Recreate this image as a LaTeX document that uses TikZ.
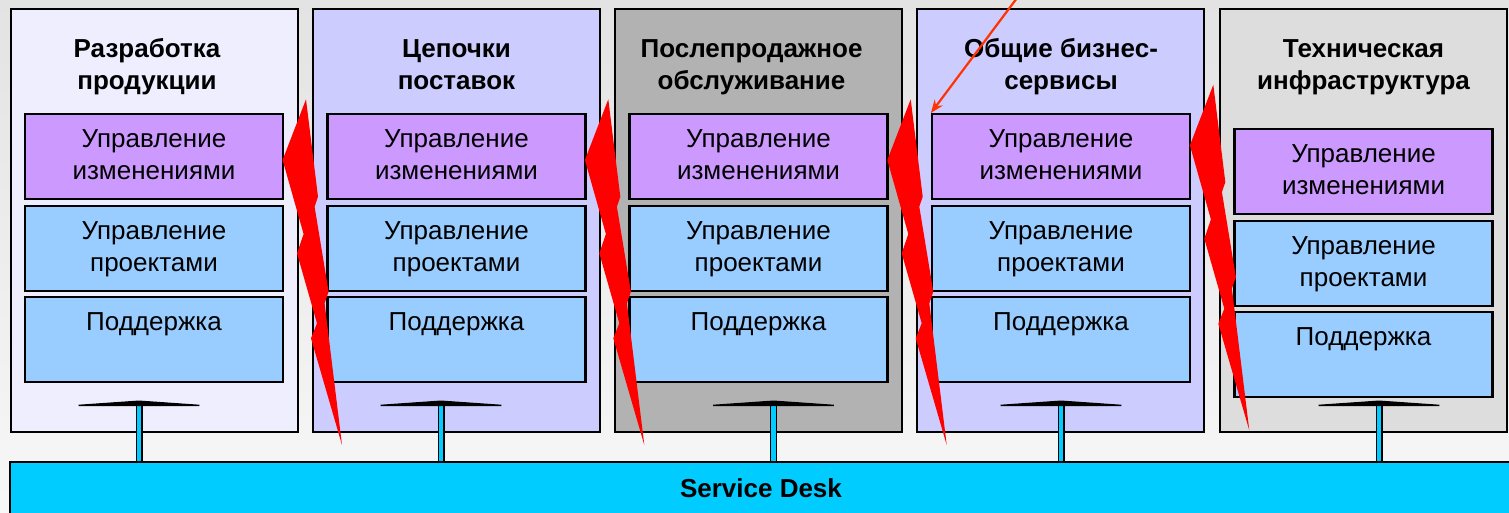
\documentclass[tikz,border=0pt]{standalone}
\usepackage{fontspec}
\setmainfont{Liberation Sans}
\usepackage{tikz}
\usetikzlibrary{arrows.meta}
\definecolor{prodcol}{HTML}{EEEEFF}
\definecolor{supcol}{HTML}{CCCCFF}
\definecolor{aftcol}{HTML}{B2B2B2}
\definecolor{infcol}{HTML}{DDDDDD}
\definecolor{chgcol}{HTML}{CC99FF}
\definecolor{prjcol}{HTML}{99CCFF}
\definecolor{sdcol}{HTML}{00CCFF}
\definecolor{notecol}{HTML}{FF3300}
\tikzset{
  colbox/.style={draw, line width=2pt, minimum width=287pt, minimum height=423pt,
    anchor=north, inner sep=0pt},
  coltitle/.style={font=\fontsize{26}{32}\selectfont\bfseries, align=center},
  chbox/.style={draw, line width=2.2pt, fill=chgcol, minimum width=258pt,
    minimum height=85pt, anchor=north, align=center,
    font=\fontsize{26}{32}\selectfont},
  prbox/.style={chbox, fill=prjcol},
  sdbox/.style={draw, line width=2pt, fill=sdcol, minimum width=1502pt,
    minimum height=52pt, font=\fontsize{26}{32}\selectfont\bfseries},
  sdarrow/.style={draw=black, line width=1.3pt, double=sdcol, double distance=4.4pt,
    -{Triangle[width=158pt,length=5.5pt,fill=black]}},
  bolt/.style={fill=red},
  note/.style={draw=notecol, line width=2.2pt, -{Stealth[length=13pt,width=10pt]}}
}

\begin{document}
\begin{tikzpicture}[x=1pt,y=-1pt]

  %% page
  \useasboundingbox (0,0) rectangle (1509,512);
  \fill[top color=gray!22, bottom color=gray!6] (0,0) rectangle (1509,512);

  %% columns
  \node[colbox, fill=prodcol] (col1) at ( 154,  8) {};
  \node[colbox, fill=supcol]  (col2) at ( 456.5,8) {};
  \node[colbox, fill=aftcol]  (col3) at ( 758.5,8) {};
  \node[colbox, fill=supcol]  (col4) at (1060.5,8) {};
  \node[colbox, fill=infcol]  (col5) at (1363.5,8) {};

  \node[coltitle] (t1) at ( 147,  67) {\strut Разработка\\\strut продукции};
  \node[coltitle] (t2) at ( 456.5,67) {\strut Цепочки\\\strut поставок};
  \node[coltitle] (t3) at ( 751.5,67) {\strut Послепродажное\\\strut обслуживание};
  \node[coltitle] (t4) at (1061,  67) {\strut Общие бизнес-\\\strut сервисы};
  \node[coltitle] (t5) at (1363.5,67) {\strut Техническая\\\strut инфраструктура};

  %% change management
  \node[chbox] (ch1) at ( 154,  113) {\strut Управление\\\strut изменениями};
  \node[chbox] (ch2) at ( 456.5,113) {\strut Управление\\\strut изменениями};
  \node[chbox] (ch3) at ( 758.5,113) {\strut Управление\\\strut изменениями};
  \node[chbox] (ch4) at (1061,  113) {\strut Управление\\\strut изменениями};
  \node[chbox] (ch5) at (1363.5,128) {\strut Управление\\\strut изменениями};

  %% project management
  \node[prbox] (pr1) at ( 154,  205) {\strut Управление\\\strut проектами};
  \node[prbox] (pr2) at ( 456.5,205) {\strut Управление\\\strut проектами};
  \node[prbox] (pr3) at ( 758.5,205) {\strut Управление\\\strut проектами};
  \node[prbox] (pr4) at (1061,  205) {\strut Управление\\\strut проектами};
  \node[prbox] (pr5) at (1363.5,220) {\strut Управление\\\strut проектами};

  %% support
  \node[prbox] (sp1) at ( 154,  296) {\strut Поддержка\\\strut};
  \node[prbox] (sp2) at ( 456.5,296) {\strut Поддержка\\\strut};
  \node[prbox] (sp3) at ( 758.5,296) {\strut Поддержка\\\strut};
  \node[prbox] (sp4) at (1061,  296) {\strut Поддержка\\\strut};
  \node[prbox] (sp5) at (1363.5,311) {\strut Поддержка\\\strut};

  %% service desk
  \node[sdbox] (sd) at (761,488) {Service Desk};

  \coordinate (a1) at ( 139,  400.5);
  \coordinate (a2) at ( 441,  400.5);
  \coordinate (a3) at ( 773.5,400.5);
  \coordinate (a4) at (1061,  400.5);
  \coordinate (a5) at (1379,  400.5);
  \draw[sdarrow] (sd.north -| a1) -- (a1);
  \draw[sdarrow] (sd.north -| a2) -- (a2);
  \draw[sdarrow] (sd.north -| a3) -- (a3);
  \draw[sdarrow] (sd.north -| a4) -- (a4);
  \draw[sdarrow] (sd.north -| a5) -- (a5);

  %% breaks between the columns
  \foreach \bx/\by in {306/99.3, 608.3/99.3, 910.7/99.3, 1213.3/84.7}
    \fill[bolt, shift={(\bx,\by)}] (0,0) -- (12,97.4) -- (8.6,107.4)
      -- (22.6,192.4) -- (18.6,204) -- (36,345.7) -- (5,239) -- (11,224)
      -- (-9,154) -- (-2.4,134.7) -- (-23.4,60.7) -- cycle;

  %% pointer
  \coordinate (src) at (1017,-2);
  \draw[note] (src) -- (ch4.north west);

\end{tikzpicture}
\end{document}
